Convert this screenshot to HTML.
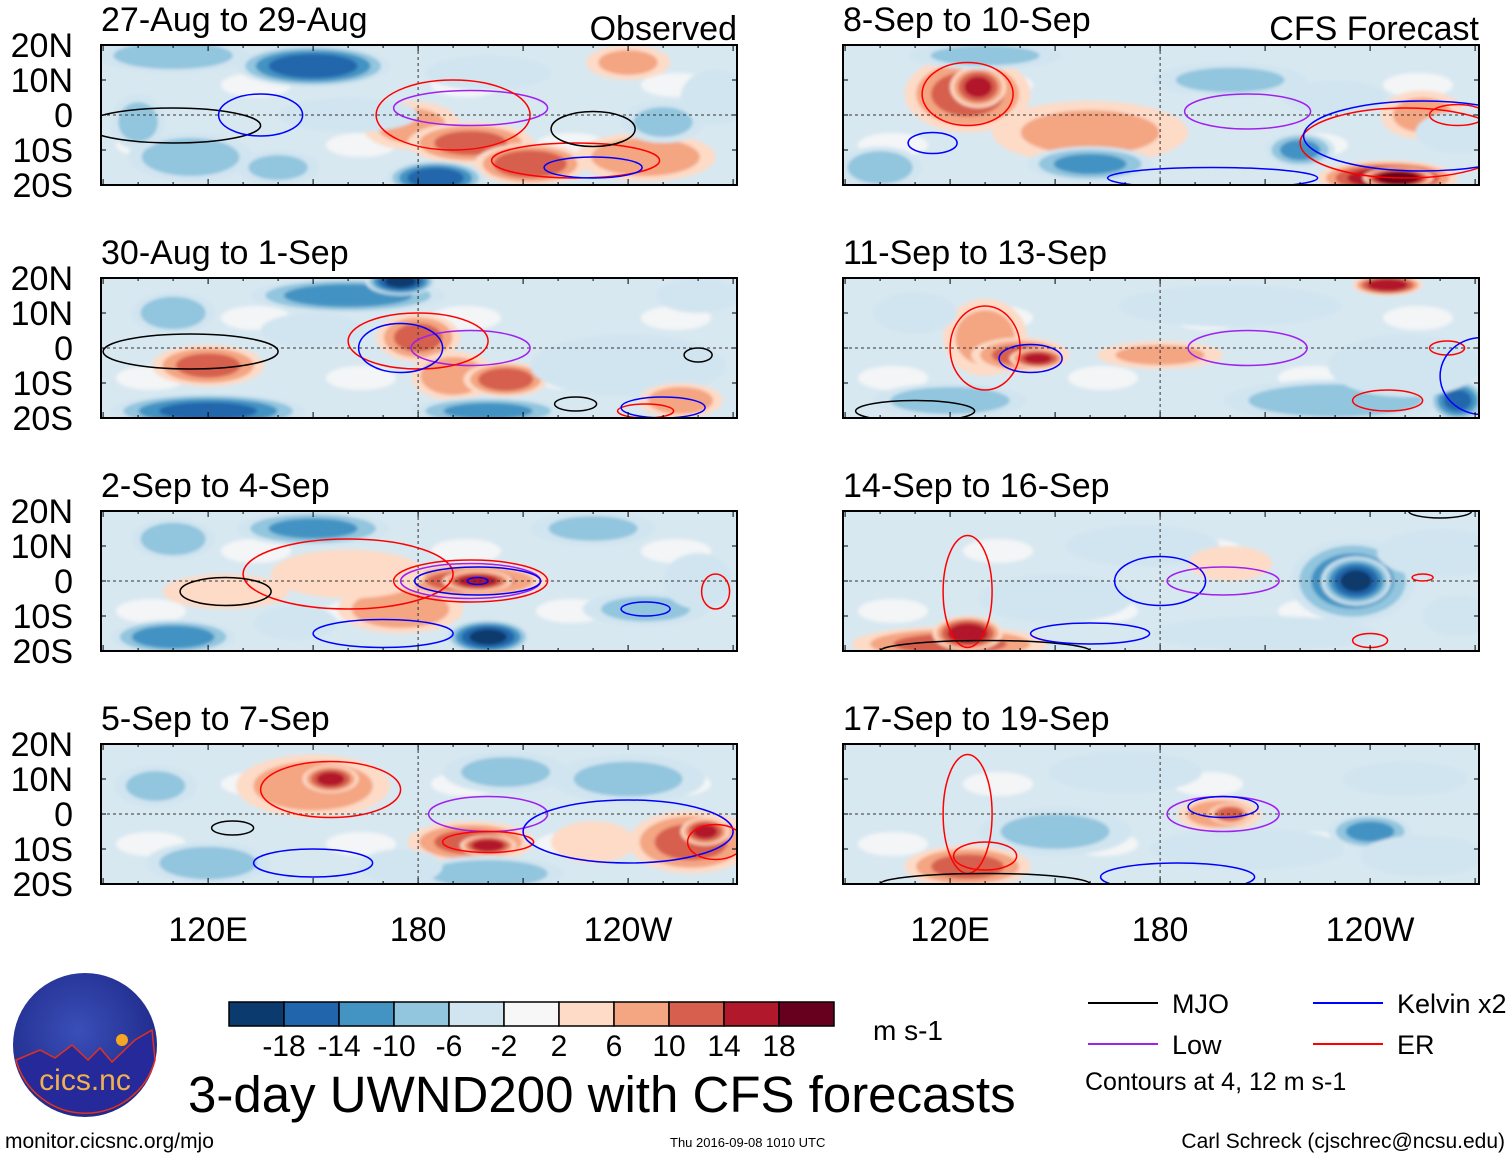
<!DOCTYPE html>
<html><head><meta charset="utf-8">
<style>
html,body{margin:0;padding:0;background:#fff;}
body{width:1510px;height:1158px;overflow:hidden;font-family:"Liberation Sans",Arial,sans-serif;}
svg text{font-family:"Liberation Sans",Arial,sans-serif;}
</style></head>
<body>
<svg id="fig" width="1510" height="1158" viewBox="0 0 1510 1158" xmlns="http://www.w3.org/2000/svg">
<defs>
<filter id="soft" x="-20%" y="-20%" width="140%" height="140%"><feGaussianBlur stdDeviation="1.5"/></filter>
<radialGradient id="logoG" cx="45%" cy="40%" r="60%"><stop offset="0" stop-color="#3a4fb8"/><stop offset="1" stop-color="#1f2a8a"/></radialGradient>
</defs>
<g id="panels"></g>
<g id="bottom"></g>
</svg>
<script>
// ---- data ----
const panelTitles = ["27-Aug to 29-Aug","30-Aug to 1-Sep","2-Sep to 4-Sep","5-Sep to 7-Sep","8-Sep to 10-Sep","11-Sep to 13-Sep","14-Sep to 16-Sep","17-Sep to 19-Sep"];
const latTicks = [20,10,0,-10,-20];
const latLabels = ["20N","10N","0","10S","20S"];
const lonTicks = [120,180,240];
const lonLabels = ["120E","180","120W"];
const cbLevels = [-18,-14,-10,-6,-2,2,6,10,14,18];
const cbColors = ["#0b3a6e","#2166ac","#4393c3","#92c5de","#d1e5f0","#f7f7f7","#fddbc7","#f4a582","#d6604d","#b2182b","#67001f"];
// anomaly blobs per panel: [lon, lat, rxDeg, ryDeg, value]
const blobs1 = [[150,14,22,6,-18],[110,17,22,5,-10],[115,-12,18,7,-10],[178,-3,14,7,8],[195,-8,18,6,12],[212,-14,16,6,14],[185,-18,14,5,-18],[245,-12,20,7,10],[140,-15,12,5,-8],[240,15,12,5,8],[250,-2,12,6,-8],[200,12,18,5,-6],[100,-2,8,8,-8],[160,0,20,5,-6],[265,5,10,8,-6]];
const blobs2 = [[160,15,28,5,-14],[175,19,10,4,-20],[120,-5,16,6,12],[180,3,12,7,12],[190,-8,12,7,10],[205,-9,12,5,14],[110,10,12,6,-10],[120,-18,28,5,-16],[200,-18,22,4,-12],[240,-5,28,9,-6],[255,-15,12,5,10],[150,5,15,5,-6],[260,15,12,5,-6]];
const blobs3 = [[150,15,22,5,-12],[110,12,12,6,-10],[110,-16,18,5,-14],[175,-8,18,7,10],[195,0,22,5,12],[197,0,10,3,18],[200,-16,12,5,-20],[125,-3,18,5,6],[160,2,22,7,6],[230,15,18,5,-8],[245,-8,18,5,-8],[260,0,10,8,-6],[145,-12,12,5,-6]];
const blobs4 = [[150,8,22,9,10],[155,10,8,4,16],[195,-8,18,6,12],[200,-9,8,3,18],[258,-8,18,9,12],[262,-5,7,4,16],[120,-14,18,6,-10],[200,-17,22,5,-10],[205,12,18,6,-8],[240,10,22,7,-8],[105,8,12,6,-8],[230,-8,12,6,6],[175,-15,12,5,-6]];
const blobs5 = [[125,6,18,11,12],[128,8,8,6,16],[160,-5,28,9,8],[245,-18,20,5,18],[248,-18,10,3,24],[100,-15,12,6,-10],[160,-14,18,5,-12],[220,-10,10,5,-12],[200,10,22,5,-8],[130,17,22,4,-8],[255,0,12,7,8],[265,-5,12,6,-6],[230,5,15,5,-6]];
const blobs6 = [[130,3,12,11,8],[140,-2,14,5,12],[145,-3,8,3,16],[245,18,10,3,18],[120,-15,22,5,-10],[230,-15,32,6,-10],[200,12,32,6,-6],[265,-15,8,6,-16],[180,-2,18,4,8],[250,-5,22,9,-6],[110,10,12,6,-6]];
const blobs7 = [[235,0,18,12,-14],[236,0,10,7,-20],[120,-18,28,5,12],[125,-15,10,5,18],[150,-5,22,7,-6],[175,10,22,6,-6],[210,-15,32,5,-6],[260,8,18,7,-6],[200,5,12,5,6],[265,-10,10,6,-6]];
const blobs8 = [[125,-15,18,6,12],[197,0,12,5,10],[200,0,6,3,14],[240,-5,12,5,-12],[150,-5,22,7,-8],[170,12,22,6,-6],[205,-10,28,6,-6],[250,10,18,5,-6],[255,-12,18,6,-6]];
// filtered contours: [type, lon, lat, rxDeg, ryDeg]
const cont1 = [["low",195,2,22,5],["er",190,0,22,10],["er",225,-13,24,5],["mjo",110,-3,25,5],["mjo",230,-4,12,5],["kel",135,0,12,6],["kel",230,-15,14,3]];
const cont2 = [["mjo",115,-1,25,5],["low",195,0,17,5],["er",180,2,20,8],["kel",175,0,12,7],["er",245,-18,8,2],["mjo",260,-2,4,2],["mjo",225,-16,6,2],["kel",250,-17,12,3]];
const cont3 = [["er",160,2,30,10],["er",195,0,22,6],["low",195,0,20,5],["kel",197,0,18,4],["kel",197,0,3,1],["mjo",125,-3,13,4],["kel",170,-15,20,4],["kel",245,-8,7,2],["er",265,-3,4,5]];
const cont4 = [["er",155,7,20,8],["low",200,0,17,5],["er",200,-8,13,3],["kel",240,-5,30,9],["mjo",127,-4,6,2],["er",265,-8,8,5],["kel",150,-14,17,4]];
const cont5 = [["er",125,6,13,9],["low",205,1,18,5],["er",250,-8,30,10],["kel",255,-6,34,10],["kel",115,-8,7,3],["er",265,0,8,3],["kel",195,-18,30,3]];
const cont6 = [["er",130,0,10,12],["kel",143,-3,9,4],["low",205,0,17,5],["er",262,0,5,2],["er",245,-15,10,3],["kel",272,-8,12,11],["mjo",110,-18,17,3]];
const cont7 = [["er",125,-3,7,16],["kel",180,0,13,7],["low",198,0,16,4],["er",255,1,3,1],["er",240,-17,5,2],["mjo",260,20,9,2],["mjo",130,-20,30,3],["kel",160,-15,17,3]];
const cont8 = [["er",125,0,7,17],["low",198,0,16,5],["kel",198,2,10,3],["mjo",130,-20,30,3],["kel",185,-18,22,4],["er",130,-12,9,4]];
const allBlobs=[blobs1,blobs2,blobs3,blobs4,blobs5,blobs6,blobs7,blobs8];
const allCont=[cont1,cont2,cont3,cont4,cont5,cont6,cont7,cont8];
const contColor={mjo:"#000000",low:"#a020f0",kel:"#0000ff",er:"#ff0000"};

const NS="http://www.w3.org/2000/svg";
function mk(tag,attrs,parent){const e=document.createElementNS(NS,tag);for(const k in attrs)e.setAttribute(k,attrs[k]);if(parent)parent.appendChild(e);return e;}
function colorFor(v){let i=0;while(i<cbLevels.length&&v>cbLevels[i])i++;return cbColors[i];}
const PW=636,PH=140,LON0=89.4,SC=3.5;
const panelsG=document.getElementById('panels');
for(let p=0;p<8;p++){
  const col=p<4?0:1,row=p%4;
  const x0=col?843:101,y0=45+row*233;
  const X=lon=>x0+(lon-LON0)*SC, Y=lat=>y0+70-lat*SC;
  const g=mk('g',{},panelsG);
  
  
  const cp=mk('clipPath',{id:'cp'+p},g);mk('rect',{x:x0,y:y0,width:PW,height:PH},cp);
  const inner=mk('g',{'clip-path':'url(#cp'+p+')'},g);
  mk('rect',{x:x0,y:y0,width:PW,height:PH,fill:'#d8e8f1'},inner);
  const fg=mk('g',{filter:'url(#soft)'},inner);
  for(let i=0;i<6;i++){mk('ellipse',{cx:x0+50+i*105,cy:y0+(i%2?40:100),rx:35,ry:12,fill:'#f3f5f6'},fg);}
  allBlobs[p].forEach(b=>{
    const [lon,lat,rx,ry,v]=b;const s=Math.sign(v),a=Math.abs(v);
    for(let lv=2;lv<a;lv+=4){
      const f=Math.sqrt(1-(lv-2)/a);
      const el=mk('ellipse',{cx:X(lon),cy:Y(lat),rx:rx*SC*f,ry:ry*SC*f,fill:colorFor(s*(lv+1))},fg);
      
      
    }
  });
  mk('line',{x1:X(180),x2:X(180),y1:y0,y2:y0+PH,stroke:'#333','stroke-dasharray':'3,3','stroke-width':1},inner);
  mk('line',{x1:x0,x2:x0+PW,y1:Y(0),y2:Y(0),stroke:'#333','stroke-dasharray':'3,3','stroke-width':1},inner);
  allCont[p].forEach(c=>{
    const el=mk('ellipse',{cx:X(c[1]),cy:Y(c[2]),rx:c[3]*SC,ry:c[4]*SC,fill:'none',stroke:contColor[c[0]],'stroke-width':1.5},inner);
    
    
  });
  mk('rect',{x:x0,y:y0,width:PW,height:PH,fill:'none',stroke:'#000','stroke-width':2},g);
  for(let lon=90;lon<=270;lon+=10){const len=lon%30==0?6:3;mk('line',{x1:X(lon),x2:X(lon),y1:y0,y2:y0+len,stroke:'#000'},g);mk('line',{x1:X(lon),x2:X(lon),y1:y0+PH,y2:y0+PH-len,stroke:'#000'},g);}
  latTicks.forEach((lt,i)=>{mk('line',{x1:x0,x2:x0+5,y1:Y(lt),y2:Y(lt),stroke:'#000'},g);mk('line',{x1:x0+PW,x2:x0+PW-5,y1:Y(lt),y2:Y(lt),stroke:'#000'},g);
    if(col==0){const t=mk('text',{x:73,y:Y(lt)+12,'font-size':34,'text-anchor':'end'},g);t.textContent=latLabels[i];
      
      }});
  const t=mk('text',{x:x0,y:y0-14,'font-size':34},g);t.textContent=panelTitles[p];
  
  
  if(row==0){const t2=mk('text',{x:x0+PW,y:y0-5,'font-size':34,'text-anchor':'end'},g);t2.textContent=col?"CFS Forecast":"Observed";
    
    }
  if(row==3){lonTicks.forEach((ln,i)=>{const tl=mk('text',{x:X(ln),y:941,'font-size':34,'text-anchor':'middle'},g);tl.textContent=lonLabels[i];
    
    });}
}
const B=document.getElementById('bottom');
const cbx=229,cbw=55;
cbColors.forEach((c,i)=>{const r=mk('rect',{x:cbx+i*cbw,y:1002,width:cbw,height:24,fill:c,stroke:'#000','stroke-width':1.5},B);
  
  });
cbLevels.forEach((lv,i)=>{const t=mk('text',{x:cbx+(i+1)*cbw,y:1056,'font-size':30,'text-anchor':'middle'},B);t.textContent=lv;
  
  });
function txt(x,y,s,str,name,anchor){const t=mk('text',{x:x,y:y,'font-size':s,'text-anchor':anchor||'start'},B);t.textContent=str;return t;}
txt(873,1040,28,"m s-1","units-label");
txt(188,1112,51,"3-day UWND200 with CFS forecasts","figure-title");
const leg=[["mjo","MJO",1088,1003],["kel","Kelvin x2",1313,1003],["low","Low",1088,1044],["er","ER",1313,1044]];
leg.forEach(l=>{mk('line',{x1:l[2],x2:l[2]+70,y1:l[3],y2:l[3],stroke:contColor[l[0]],'stroke-width':2},B);txt(l[2]+84,l[3]+10,27,l[1],'legend-entry-'+l[0]);});
txt(1085,1090,25,"Contours at 4, 12 m s-1","contour-note");
txt(5,1148,21,"monitor.cicsnc.org/mjo","website-link");
txt(670,1147,13,"Thu 2016-09-08 1010 UTC","timestamp");
txt(1505,1148,21,"Carl Schreck (cjschrec@ncsu.edu)","author-credit","end");
const lg=mk('g',{},B);
mk('circle',{cx:85,cy:1045,r:72,fill:'url(#logoG)'},lg);
mk('path',{d:'M16,1060 L40,1050 L55,1058 L72,1045 L88,1060 L100,1048 L112,1062 L135,1040 L152,1030 L155,1060 A72,72 0 0 1 16,1060 Z',fill:'#25299a',stroke:'#e03020','stroke-width':1.5},lg);
mk('circle',{cx:122,cy:1040,r:6,fill:'#f5a623'},lg);
const lt=mk('text',{x:85,y:1090,'font-size':30,'text-anchor':'middle',fill:'#f0b050'},lg);lt.textContent="cics.nc";
</script>
</body></html>
